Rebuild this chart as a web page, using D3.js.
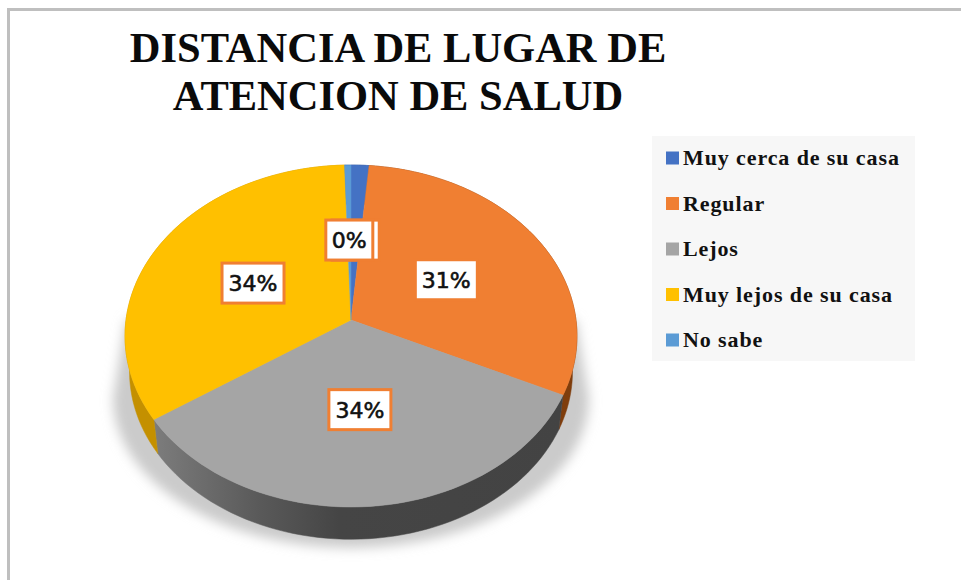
<!DOCTYPE html>
<html lang="es">
  <head>
    <meta charset="utf-8">
    <title>Distancia de lugar de atencion de salud</title>
    <script src="https://d3js.org/d3.v7.min.js"></script>
    <style>
      html, body { margin: 0; padding: 0; background: #fff; }
      svg { display: block; }
    </style>
  </head>
  <body>
    <script type="text/javascript">

    // values (percent)
    var categories = ["Muy cerca de su casa", "Regular", "Lejos", "Muy lejos de su casa", "No sabe"];
    var values = [1.4, 30.6, 33.6, 33.9, 0.5];
    var colors = ["#4472c4", "#f07f32", "#a5a5a5", "#ffc000", "#5b9bd5"];
    var wallColors = ["#2f4f88", "#7f3d0c", "url(#grayWall)", "#c49000", "#3f6d96"];
    var titleLines = ["DISTANCIA DE LUGAR DE", "ATENCION DE SALUD"];

    var w = 961;
    var h = 580;

    // tilted disc: apex of the pie, radii and perspective strength
    var cx = 351, cy = 320;
    var rx = 225, ry = 169.5, persp = 0.0936;
    var wallDrop = 36, wallScale = 0.98;

    var svg = d3.select("body")
                .append("svg")
                .attr("width", w)
                .attr("height", h);

    var defs = svg.append("defs");

    var grayWall = defs.append("linearGradient")
        .attr("id", "grayWall")
        .attr("gradientUnits", "userSpaceOnUse")
        .attr("x1", 155).attr("x2", 565).attr("y1", 0).attr("y2", 0);
    [[0, "#7c7c7c"], [0.25, "#5a5a5a"], [0.45, "#454545"], [1, "#434343"]].forEach(function(s) {
      grayWall.append("stop").attr("offset", s[0]).attr("stop-color", s[1]);
    });

    defs.append("filter").attr("id", "soft")
        .attr("x", "-10%").attr("y", "-10%").attr("width", "120%").attr("height", "120%")
      .append("feGaussianBlur").attr("stdDeviation", 6);

    // frame of the chart area
    svg.append("path")
       .attr("d", "M8.5," + h + "V9.5H" + w)
       .attr("fill", "none")
       .attr("stroke", "#bfbfbf")
       .attr("stroke-width", 3);

    svg.selectAll(".title")
       .data(titleLines)
       .enter()
       .append("text")
       .attr("class", "title")
       .attr("x", 398)
       .attr("y", (d, i) => 62 + i * 48)
       .attr("text-anchor", "middle")
       .attr("font-family", "Liberation Serif")
       .attr("font-weight", "bold")
       .attr("font-size", 42.5)
       .attr("fill", "#0a0a0a")
       .text(d => d);

    // radius 0..1 and angle (clockwise from top) to screen position
    function project(r, a, drop, scale) {
      var u = r * Math.sin(a);
      var v = -r * Math.cos(a);
      var d = 1 - persp * v;
      return [cx + scale * rx * u / d, cy + drop + scale * ry * v / d];
    }

    var slices = d3.pie().sort(null).startAngle(0).endAngle(2 * Math.PI)(values);
    var line = d3.line();

    function rimAngles(d) {
      return d3.range(0, 61).map(i => d.startAngle + (d.endAngle - d.startAngle) * i / 60);
    }

    // soft shadow under the disc, a narrow wedge up the sides and round below
    svg.append("path")
       .attr("d", "M126,320L113,398A238,150 0 0 0 589,398L576,320Z")
       .attr("fill", "#cbcbcb")
       .attr("filter", "url(#soft)");

    // side wall
    svg.selectAll(".wall")
       .data(slices)
       .enter()
       .append("path")
       .attr("class", "wall")
       .attr("fill", (d, i) => wallColors[i])
       .attr("stroke", (d, i) => wallColors[i])
       .attr("stroke-width", 0.5)
       .attr("d", function(d) {
         var angles = rimAngles(d);
         var top = angles.map(a => project(1, a, 0, 1));
         var bottom = angles.slice().reverse().map(a => project(1, a, wallDrop, wallScale));
         return line(top.concat(bottom)) + "Z";
       });

    // top of the disc
    svg.selectAll(".slice")
       .data(slices)
       .enter()
       .append("path")
       .attr("class", "slice")
       .attr("fill", (d, i) => colors[i])
       .attr("stroke", (d, i) => colors[i])
       .attr("stroke-width", 0.5)
       .attr("d", function(d) {
         var rim = rimAngles(d).map(a => project(1, a, 0, 1));
         return line([[cx, cy]].concat(rim)) + "Z";
       });

    // data labels sit half way out on each slice
    var boxW = 62, boxH = 40;
    var labels = svg.selectAll(".label")
       .data(slices)
       .enter()
       .append("g")
       .attr("class", "label")
       .attr("transform", function(d) {
         var p = project(0.5, (d.startAngle + d.endAngle) / 2, 0, 1);
         return "translate(" + p[0] + "," + (p[1] + 1) + ")";
       });

    var fmt = d3.format(".0f");
    labels.append("rect")
       .attr("x", d => -labelWidth(d) / 2)
       .attr("y", -boxH / 2)
       .attr("width", d => labelWidth(d))
       .attr("height", boxH)
       .attr("fill", "#fff")
       .attr("stroke", "#f07f32")
       .attr("stroke-width", 3);

    function labelWidth(d) {
      return d.value < 5 ? 47 : boxW;
    }

    // the 1% label lies behind the 0% one, only its box edge shows
    labels.filter(d => d.index > 0)
       .append("text")
       .attr("y", 8)
       .attr("text-anchor", "middle")
       .attr("font-family", "DejaVu Sans")
       .attr("font-size", 22)
       .attr("fill", "#111")
       .attr("stroke", "#111")
       .attr("stroke-width", 0.6)
       .text(d => fmt(d.index == 4 ? 0 : d.value) + "%");

    // legend
    svg.append("rect")
       .attr("x", 652)
       .attr("y", 136)
       .attr("width", 263)
       .attr("height", 225)
       .attr("fill", "#f7f7f7");

    var legendY = d3.scalePoint().domain(categories).range([158, 340]);

    svg.selectAll(".swatch")
       .data(categories)
       .enter()
       .append("rect")
       .attr("class", "swatch")
       .attr("x", 666)
       .attr("y", d => legendY(d) - 6.5)
       .attr("width", 13)
       .attr("height", 13)
       .attr("fill", (d, i) => colors[i]);

    svg.selectAll(".legendText")
       .data(categories)
       .enter()
       .append("text")
       .attr("class", "legendText")
       .attr("x", 683)
       .attr("y", d => legendY(d) + 7)
       .attr("font-family", "Liberation Serif")
       .attr("font-weight", "bold")
       .attr("font-size", 22)
       .attr("letter-spacing", 0.9)
       .attr("fill", "#111")
       .text(d => d);

    </script>
  </body>
</html>
